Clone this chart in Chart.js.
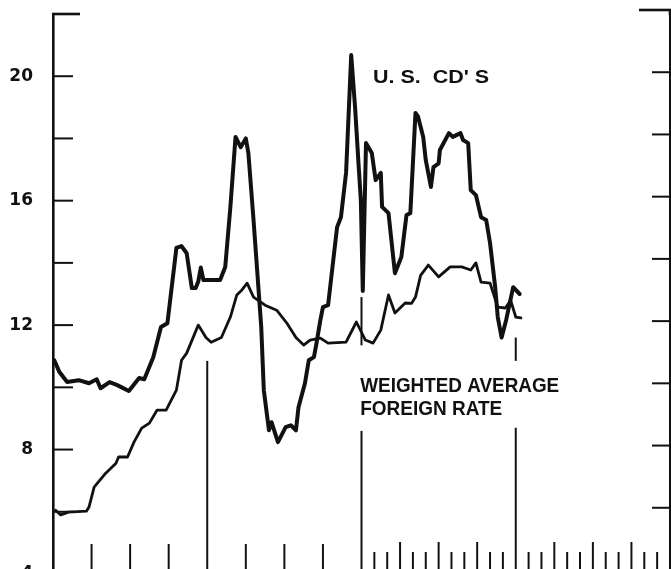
<!DOCTYPE html>
<html>
<head>
<meta charset="utf-8">
<script src="https://cdn.jsdelivr.net/npm/chart.js@4"></script>
<style>
  html, body { margin: 0; padding: 0; background: #fff; overflow: hidden; }
  canvas { display: block; }
</style>
</head>
<body>
<canvas id="chart" width="671" height="600"></canvas>
<script>
// months counted from January 1979 (0) to January 1983 (48)
const cdMonths = [0.1, 0.5, 1.1, 2.0, 2.8, 3.4, 3.7, 4.4, 5.0, 5.9, 6.7, 7.1, 7.8, 8.4, 8.9, 9.6, 10.0, 10.4, 10.8, 11.1,
  11.3, 11.5, 11.7, 12.7, 13.0, 13.4, 13.8, 14.2, 14.6, 15.0, 15.2, 15.6, 16.2, 16.4, 16.8, 17.0, 17.5, 18.1, 18.5, 18.9,
  19.1, 19.6, 19.9, 20.3, 20.5, 20.8, 21.0, 21.4, 22.1, 22.4, 22.8, 23.2, 23.5, 23.8, 23.95, 24.1, 24.35, 24.8, 25.1, 25.5,
  25.6, 26.1, 26.6, 27.1, 27.5, 27.8, 28.2, 28.4, 28.8, 29.0, 29.4, 29.6, 30.0, 30.1, 30.8, 31.1, 31.7, 31.9, 32.3, 32.5,
  32.9, 33.3, 33.7, 34.0, 34.4, 34.6, 34.9, 35.25, 35.8, 36.0, 36.3];
const cdRates = [10.87, 10.49, 10.17, 10.23, 10.13, 10.26, 9.97, 10.17, 10.07, 9.88, 10.30, 10.26, 10.97, 11.94, 12.06, 14.48, 14.54, 14.31, 13.19, 13.19,
  13.40, 13.85, 13.45, 13.45, 13.45, 13.87, 15.80, 18.05, 17.72, 18.00, 17.53, 15.38, 11.94, 9.91, 8.62, 8.88, 8.24, 8.72, 8.78, 8.62,
  9.36, 10.13, 10.87, 10.97, 11.42, 12.16, 12.58, 12.64, 15.15, 15.47, 16.90, 20.68, 19.00, 16.98, 16.00, 13.10, 17.85, 17.53, 16.66, 16.89,
  15.80, 15.60, 13.67, 14.19, 15.54, 15.60, 18.82, 18.70, 18.05, 17.30, 16.44, 17.08, 17.20, 17.63, 18.17, 18.05, 18.17, 17.95, 17.85, 16.34,
  16.18, 15.47, 15.38, 14.64, 13.22, 12.26, 11.60, 12.16, 13.22, 13.13, 13.00];

const foreignMonths = [0.2, 0.6, 1.2, 2.6, 2.8, 3.2, 4.1, 4.9, 5.1, 5.8, 6.3, 6.9, 7.5, 8.1, 8.8, 9.6, 10.0, 10.4, 11.3, 11.9,
  12.3, 13.1, 13.8, 14.3, 14.7, 15.1, 15.6, 16.5, 17.4, 18.2, 18.9, 19.5, 20.0, 20.8, 21.4, 22.8, 23.6, 24.3, 24.9, 25.5,
  26.1, 26.6, 27.4, 27.9, 28.2, 28.6, 29.2, 30.0, 30.9, 31.8, 32.5, 32.9, 33.3, 34.0, 34.6, 35.2, 35.6, 36.0, 36.4];
const foreignRates = [6.05, 5.90, 5.99, 6.02, 6.15, 6.79, 7.24, 7.56, 7.76, 7.76, 8.24, 8.69, 8.85, 9.27, 9.27, 9.91, 10.87, 11.10, 12.00, 11.60,
  11.45, 11.60, 12.26, 12.97, 13.13, 13.35, 12.90, 12.64, 12.48, 12.06, 11.60, 11.36, 11.52, 11.58, 11.42, 11.45, 12.10, 11.52, 11.42, 11.84,
  12.97, 12.39, 12.71, 12.70, 12.90, 13.60, 13.93, 13.55, 13.87, 13.87, 13.77, 14.00, 13.38, 13.35, 12.58, 12.55, 12.80, 12.26, 12.23];

const yearMonths = [12, 24, 36];
const rateTicks = [6, 8, 10, 12, 14, 16, 18, 20];

function line(ctx, x1, y1, x2, y2) {
  ctx.beginPath();
  ctx.moveTo(x1, y1);
  ctx.lineTo(x2, y2);
  ctx.stroke();
}

function fitText(ctx, text, left, baseline, width) {
  const w = ctx.measureText(text).width;
  ctx.save();
  ctx.translate(left, baseline);
  ctx.scale(width / w, 1);
  ctx.fillText(text, 0, 0);
  ctx.restore();
}

// old-style frame: inward ticks, caps, month ticks along the bottom
const frame = {
  id: 'frame',
  beforeDatasetsDraw(chart) {
    const { ctx, chartArea: a, scales: { x, y } } = chart;
    ctx.save();
    ctx.strokeStyle = '#111';
    ctx.lineWidth = 2.6;
    line(ctx, a.left - 1, a.top, a.left + 27, a.top);
    line(ctx, a.right - 31, a.top - 4, a.right + 1, a.top - 4);
    line(ctx, a.right, a.top - 5, a.right, a.top + 1);

    ctx.lineWidth = 2;
    rateTicks.forEach(v => {
      const py = y.getPixelForValue(v);
      line(ctx, a.left, py, a.left + 20, py);
      line(ctx, a.right - 18, py - 4, a.right, py - 4);
    });

    for (let m = 1; m < 48; m++) {
      if (yearMonths.includes(m)) continue;
      const px = x.getPixelForValue(m);
      if (m < 24) {
        if (m % 3 === 0) line(ctx, px, a.bottom - 30, px, a.bottom);
      } else {
        line(ctx, px, a.bottom - (m % 3 === 0 ? 32 : 22), px, a.bottom);
      }
    }

    // year separators, broken where the label sits
    const segs = [
      [12, [[10.85, 4]]],
      [24, [[12.9, 11.35], [8.6, 4]]],
      [36, [[11.6, 10.85], [8.7, 4]]]
    ];
    segs.forEach(([m, parts]) => {
      const px = x.getPixelForValue(m);
      parts.forEach(([v1, v2]) => line(ctx, px, y.getPixelForValue(v1), px, y.getPixelForValue(v2)));
    });
    ctx.restore();
  },
  afterDraw(chart) {
    const { ctx, scales: { x, y } } = chart;
    ctx.save();
    ctx.fillStyle = '#111';
    ctx.textAlign = 'left';
    ctx.textBaseline = 'alphabetic';
    ctx.font = 'bold 19px "Liberation Sans"';
    fitText(ctx, "U. S.  CD' S", x.getPixelForValue(24.9), y.getPixelForValue(19.77), 116);
    ctx.font = 'bold 20px "Liberation Sans"';
    fitText(ctx, 'WEIGHTED AVERAGE', x.getPixelForValue(23.9), y.getPixelForValue(9.85), 199);
    fitText(ctx, 'FOREIGN RATE', x.getPixelForValue(23.9), y.getPixelForValue(9.11), 142);
    ctx.restore();
  }
};

const toPoints = (xs, ys) => xs.map((m, i) => ({ x: m, y: ys[i] }));

// keep the plot box fixed: no extra room for half tick labels
const fixWidth = w => s => {
  s.width = w;
  s.paddingTop = 0;
  s.paddingBottom = 0;
};

new Chart(document.getElementById('chart').getContext('2d'), {
  type: 'line',
  data: {
    datasets: [{
      label: "U.S. CD'S",
      data: toPoints(cdMonths, cdRates),
      borderColor: '#111',
      borderWidth: 4,
      yAxisID: 'y'
    }, {
      label: 'Weighted average foreign rate',
      data: toPoints(foreignMonths, foreignRates),
      borderColor: '#111',
      borderWidth: 2.8,
      yAxisID: 'y'
    }]
  },
  options: {
    responsive: false,
    animation: false,
    layout: { padding: { top: 14, bottom: 26, left: 0, right: 0 } },
    elements: {
      point: { radius: 0 },
      line: { tension: 0, borderJoinStyle: 'round', borderCapStyle: 'round' }
    },
    plugins: { legend: { display: false }, tooltip: { enabled: false } },
    scales: {
      x: { type: 'linear', min: 0, max: 48, display: false },
      y: {
        position: 'left',
        min: 4,
        max: 22,
        grid: { display: false, drawTicks: false },
        border: { display: true, color: '#111', width: 2.6 },
        ticks: {
          stepSize: 2,
          autoSkip: false,
          padding: 20,
          color: '#111',
          font: { family: 'DejaVu Sans', weight: 'bold', size: 17 },
          callback: v => (v % 4 === 0 ? v : '')
        },
        afterFit: fixWidth(53)
      },
      y2: {
        position: 'right',
        min: 4,
        max: 22,
        grid: { display: false, drawTicks: false },
        border: { display: true, color: '#111', width: 2.6 },
        ticks: { display: false },
        afterFit: fixWidth(1)
      }
    }
  },
  plugins: [frame]
});
</script>
</body>
</html>
